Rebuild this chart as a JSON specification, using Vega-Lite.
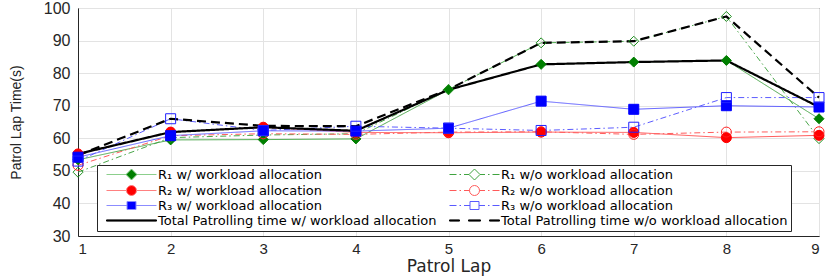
{
  "$schema": "https://vega.github.io/schema/vega-lite/v6.json",
  "width": 741,
  "height": 228,
  "autosize": {"type": "none"},
  "padding": {"left": 78, "top": 8, "right": 11, "bottom": 41},
  "background": "white",
  "config": {
    "view": {"stroke": "#262626", "strokeWidth": 1},
    "axis": {
      "labelFont": "Liberation Sans",
      "titleFont": "Liberation Sans",
      "labelColor": "#262626",
      "titleColor": "#262626",
      "titleFontWeight": "normal",
      "gridColor": "#e3e3e3",
      "domainColor": "#262626",
      "ticks": false
    }
  },
  "data": {
    "values": [
      {"lap": 1, "s": "R₁ w/ workload allocation", "v": 53.4},
      {"lap": 2, "s": "R₁ w/ workload allocation", "v": 59.5},
      {"lap": 3, "s": "R₁ w/ workload allocation", "v": 59.6},
      {"lap": 4, "s": "R₁ w/ workload allocation", "v": 59.8},
      {"lap": 5, "s": "R₁ w/ workload allocation", "v": 74.9},
      {"lap": 6, "s": "R₁ w/ workload allocation", "v": 82.7},
      {"lap": 7, "s": "R₁ w/ workload allocation", "v": 83.4},
      {"lap": 8, "s": "R₁ w/ workload allocation", "v": 83.9},
      {"lap": 9, "s": "R₁ w/ workload allocation", "v": 66.0},
      {"lap": 1, "s": "R₁ w/o workload allocation", "v": 49.6},
      {"lap": 2, "s": "R₁ w/o workload allocation", "v": 60.2},
      {"lap": 3, "s": "R₁ w/o workload allocation", "v": 61.0},
      {"lap": 4, "s": "R₁ w/o workload allocation", "v": 61.4},
      {"lap": 5, "s": "R₁ w/o workload allocation", "v": 75.0},
      {"lap": 6, "s": "R₁ w/o workload allocation", "v": 89.3},
      {"lap": 7, "s": "R₁ w/o workload allocation", "v": 89.8},
      {"lap": 8, "s": "R₁ w/o workload allocation", "v": 97.4},
      {"lap": 9, "s": "R₁ w/o workload allocation", "v": 59.9},
      {"lap": 1, "s": "R₂ w/ workload allocation", "v": 55.2},
      {"lap": 2, "s": "R₂ w/ workload allocation", "v": 61.9},
      {"lap": 3, "s": "R₂ w/ workload allocation", "v": 63.4},
      {"lap": 4, "s": "R₂ w/ workload allocation", "v": 61.8},
      {"lap": 5, "s": "R₂ w/ workload allocation", "v": 61.7},
      {"lap": 6, "s": "R₂ w/ workload allocation", "v": 61.9},
      {"lap": 7, "s": "R₂ w/ workload allocation", "v": 61.8},
      {"lap": 8, "s": "R₂ w/ workload allocation", "v": 60.2},
      {"lap": 9, "s": "R₂ w/ workload allocation", "v": 60.9},
      {"lap": 1, "s": "R₂ w/o workload allocation", "v": 51.7},
      {"lap": 2, "s": "R₂ w/o workload allocation", "v": 60.8},
      {"lap": 3, "s": "R₂ w/o workload allocation", "v": 61.4},
      {"lap": 4, "s": "R₂ w/o workload allocation", "v": 61.2},
      {"lap": 5, "s": "R₂ w/o workload allocation", "v": 61.9},
      {"lap": 6, "s": "R₂ w/o workload allocation", "v": 62.0},
      {"lap": 7, "s": "R₂ w/o workload allocation", "v": 61.2},
      {"lap": 8, "s": "R₂ w/o workload allocation", "v": 61.9},
      {"lap": 9, "s": "R₂ w/o workload allocation", "v": 62.0},
      {"lap": 1, "s": "R₃ w/ workload allocation", "v": 54.2},
      {"lap": 2, "s": "R₃ w/ workload allocation", "v": 60.8},
      {"lap": 3, "s": "R₃ w/ workload allocation", "v": 62.3},
      {"lap": 4, "s": "R₃ w/ workload allocation", "v": 62.2},
      {"lap": 5, "s": "R₃ w/ workload allocation", "v": 63.1},
      {"lap": 6, "s": "R₃ w/ workload allocation", "v": 71.4},
      {"lap": 7, "s": "R₃ w/ workload allocation", "v": 68.9},
      {"lap": 8, "s": "R₃ w/ workload allocation", "v": 70.0},
      {"lap": 9, "s": "R₃ w/ workload allocation", "v": 69.6},
      {"lap": 1, "s": "R₃ w/o workload allocation", "v": 53.0},
      {"lap": 2, "s": "R₃ w/o workload allocation", "v": 66.0},
      {"lap": 3, "s": "R₃ w/o workload allocation", "v": 62.4},
      {"lap": 4, "s": "R₃ w/o workload allocation", "v": 63.7},
      {"lap": 5, "s": "R₃ w/o workload allocation", "v": 63.1},
      {"lap": 6, "s": "R₃ w/o workload allocation", "v": 62.4},
      {"lap": 7, "s": "R₃ w/o workload allocation", "v": 63.4},
      {"lap": 8, "s": "R₃ w/o workload allocation", "v": 72.5},
      {"lap": 9, "s": "R₃ w/o workload allocation", "v": 72.5},
      {"lap": 1, "s": "Total Patrolling time w/ workload allocation", "v": 55.2},
      {"lap": 2, "s": "Total Patrolling time w/ workload allocation", "v": 61.9},
      {"lap": 3, "s": "Total Patrolling time w/ workload allocation", "v": 63.4},
      {"lap": 4, "s": "Total Patrolling time w/ workload allocation", "v": 62.3},
      {"lap": 5, "s": "Total Patrolling time w/ workload allocation", "v": 74.9},
      {"lap": 6, "s": "Total Patrolling time w/ workload allocation", "v": 82.7},
      {"lap": 7, "s": "Total Patrolling time w/ workload allocation", "v": 83.4},
      {"lap": 8, "s": "Total Patrolling time w/ workload allocation", "v": 83.9},
      {"lap": 9, "s": "Total Patrolling time w/ workload allocation", "v": 69.6},
      {"lap": 1, "s": "Total Patrolling time w/o workload allocation", "v": 54.8},
      {"lap": 2, "s": "Total Patrolling time w/o workload allocation", "v": 66.0},
      {"lap": 3, "s": "Total Patrolling time w/o workload allocation", "v": 63.8},
      {"lap": 4, "s": "Total Patrolling time w/o workload allocation", "v": 63.7},
      {"lap": 5, "s": "Total Patrolling time w/o workload allocation", "v": 75.0},
      {"lap": 6, "s": "Total Patrolling time w/o workload allocation", "v": 89.3},
      {"lap": 7, "s": "Total Patrolling time w/o workload allocation", "v": 89.8},
      {"lap": 8, "s": "Total Patrolling time w/o workload allocation", "v": 97.4},
      {"lap": 9, "s": "Total Patrolling time w/o workload allocation", "v": 72.5}
    ]
  },
  "encoding": {
    "x": {
      "field": "lap",
      "type": "quantitative",
      "scale": {"domain": [1, 9], "nice": false, "zero": false},
      "axis": {
        "title": "Patrol Lap",
        "values": [1, 2, 3, 4, 5, 6, 7, 8, 9],
        "format": "d",
        "labelFontSize": 15,
        "labelPadding": 5,
        "titleFont": "DejaVu Sans",
        "titleFontSize": 17,
        "titlePadding": 2,
        "grid": true
      }
    },
    "y": {
      "field": "v",
      "type": "quantitative",
      "scale": {"domain": [30, 100], "nice": false, "zero": false},
      "axis": {
        "title": "Patrol Lap Time(s)",
        "values": [30, 40, 50, 60, 70, 80, 90, 100],
        "labelFontSize": 16,
        "labelPadding": 8,
        "titleFontSize": 14,
        "titlePadding": 20,
        "grid": true
      }
    }
  },
  "layer": [
    {
      "transform": [{"filter": "indexof(datum.s, 'Total') < 0"}],
      "mark": {"type": "line", "strokeWidth": 1},
      "encoding": {
        "stroke": {
          "field": "s",
          "type": "nominal",
          "scale": {
            "domain": ["R₁ w/ workload allocation", "R₁ w/o workload allocation", "R₂ w/ workload allocation", "R₂ w/o workload allocation", "R₃ w/ workload allocation", "R₃ w/o workload allocation"],
            "range": ["#4aa64a", "#4aa64a", "#ff5c5c", "#ff5c5c", "#5c5cff", "#5c5cff"]
          },
          "legend": null
        },
        "strokeDash": {
          "field": "s",
          "type": "nominal",
          "scale": {
            "domain": ["R₁ w/ workload allocation", "R₁ w/o workload allocation", "R₂ w/ workload allocation", "R₂ w/o workload allocation", "R₃ w/ workload allocation", "R₃ w/o workload allocation"],
            "range": [[1, 0], [6, 3, 1.5, 3], [1, 0], [6, 3, 1.5, 3], [1, 0], [6, 3, 1.5, 3]]
          },
          "legend": null
        }
      }
    },
    {
      "transform": [{"filter": "indexof(datum.s, 'Total') >= 0"}],
      "mark": {"type": "line", "strokeWidth": 2.2, "stroke": "black"},
      "encoding": {
        "detail": {"field": "s", "type": "nominal"},
        "strokeDash": {
          "field": "s",
          "type": "nominal",
          "scale": {
            "domain": ["Total Patrolling time w/ workload allocation", "Total Patrolling time w/o workload allocation"],
            "range": [[1, 0], [9, 5]]
          },
          "legend": null
        }
      }
    },
    {
      "transform": [{"filter": "indexof(datum.s, 'Total') < 0"}],
      "mark": {"type": "point", "filled": true, "opacity": 1, "strokeWidth": 1},
      "encoding": {
        "shape": {
          "field": "s",
          "type": "nominal",
          "scale": {
            "domain": ["R₁ w/ workload allocation", "R₁ w/o workload allocation", "R₂ w/ workload allocation", "R₂ w/o workload allocation", "R₃ w/ workload allocation", "R₃ w/o workload allocation"],
            "range": ["diamond", "diamond", "circle", "circle", "square", "square"]
          },
          "legend": null
        },
        "size": {
          "field": "s",
          "type": "ordinal",
          "scale": {
            "domain": ["R₁ w/ workload allocation", "R₁ w/o workload allocation", "R₂ w/ workload allocation", "R₂ w/o workload allocation", "R₃ w/ workload allocation", "R₃ w/o workload allocation"],
            "range": [100, 100, 95, 95, 70, 70]
          },
          "legend": null
        },
        "fill": {
          "field": "s",
          "type": "nominal",
          "scale": {
            "domain": ["R₁ w/ workload allocation", "R₁ w/o workload allocation", "R₂ w/ workload allocation", "R₂ w/o workload allocation", "R₃ w/ workload allocation", "R₃ w/o workload allocation"],
            "range": ["#007f00", "transparent", "#ff0000", "transparent", "#0000ff", "transparent"]
          },
          "legend": null
        },
        "stroke": {
          "field": "s",
          "type": "nominal",
          "scale": {
            "domain": ["R₁ w/ workload allocation", "R₁ w/o workload allocation", "R₂ w/ workload allocation", "R₂ w/o workload allocation", "R₃ w/ workload allocation", "R₃ w/o workload allocation"],
            "range": ["#007f00", "#1f8f1f", "#ff0000", "#ff2020", "#0000ff", "#2020ff"]
          },
          "legend": null
        }
      }
    },
    {
      "transform": [{"filter": "datum.lap < 0"}],
      "mark": {"type": "point", "filled": true, "opacity": 1, "strokeWidth": 1},
      "encoding": {
        "x": {"field": "lap", "type": "quantitative"},
        "y": {"field": "v", "type": "quantitative"},
        "shape": {
          "field": "s",
          "type": "nominal",
          "scale": {
            "domain": ["R₁ w/ workload allocation", "R₂ w/ workload allocation", "R₃ w/ workload allocation", "Total Patrolling time w/ workload allocation", "R₁ w/o workload allocation", "R₂ w/o workload allocation", "R₃ w/o workload allocation", "Total Patrolling time w/o workload allocation"],
            "range": [
              "M0,0H19.5M30.5,0H50M25,-5.5L30.5,0L25,5.5L19.5,0Z",
              "M0,0H20M30,0H50M20,0A5,5 0 1,1 30,0A5,5 0 1,1 20,0Z",
              "M0,0H20.5M29.5,0H50M20.5,-4H29.5V4H20.5Z",
              "M0,-0.6H50V0.6H0Z",
              "M0,0H7M10,0H11.5M14.5,0H19.5M30.5,0H35.5M38.5,0H40M43,0H50M25,-5.5L30.5,0L25,5.5L19.5,0Z",
              "M0,0H7M10,0H11.5M14.5,0H20M30,0H35.5M38.5,0H40M43,0H50M20,0A5,5 0 1,1 30,0A5,5 0 1,1 20,0Z",
              "M0,0H7M10,0H11.5M14.5,0H20.5M29.5,0H35.5M38.5,0H40M43,0H50M20.5,-4H29.5V4H20.5Z",
              "M0,-0.6H10V0.6H0ZM19,-0.6H31V0.6H19ZM40,-0.6H50V0.6H40Z"
            ]
          },
          "legend": {
            "title": null,
            "orient": "none",
            "legendX": 19,
            "legendY": 157,
            "direction": "vertical",
            "columns": 2,
            "columnPadding": 6,
            "rowPadding": 1,
            "padding": 3,
            "strokeColor": "#262626",
            "fillColor": "white",
            "cornerRadius": 0,
            "labelFont": "DejaVu Sans",
            "labelFontSize": 13,
            "labelColor": "black",
            "labelOffset": 45,
            "labelLimit": 0,
            "symbolSize": 4,
            "symbolStrokeWidth": 1,
            "symbolOpacity": 1
          }
        },
        "fill": {
          "field": "s",
          "type": "nominal",
          "scale": {
            "domain": ["R₁ w/ workload allocation", "R₂ w/ workload allocation", "R₃ w/ workload allocation", "Total Patrolling time w/ workload allocation", "R₁ w/o workload allocation", "R₂ w/o workload allocation", "R₃ w/o workload allocation", "Total Patrolling time w/o workload allocation"],
            "range": ["#007f00", "#ff0000", "#0000ff", "black", "white", "white", "white", "black"]
          }
        },
        "stroke": {
          "field": "s",
          "type": "nominal",
          "scale": {
            "domain": ["R₁ w/ workload allocation", "R₂ w/ workload allocation", "R₃ w/ workload allocation", "Total Patrolling time w/ workload allocation", "R₁ w/o workload allocation", "R₂ w/o workload allocation", "R₃ w/o workload allocation", "Total Patrolling time w/o workload allocation"],
            "range": ["#8ccf8c", "#ff8080", "#8c8cff", "black", "#3fa33f", "#ff5a5a", "#5a5aff", "black"]
          }
        }
      }
    }
  ],
  "resolve": {
    "scale": {"shape": "independent", "fill": "independent", "stroke": "independent", "strokeDash": "independent", "size": "independent"}
  }
}
